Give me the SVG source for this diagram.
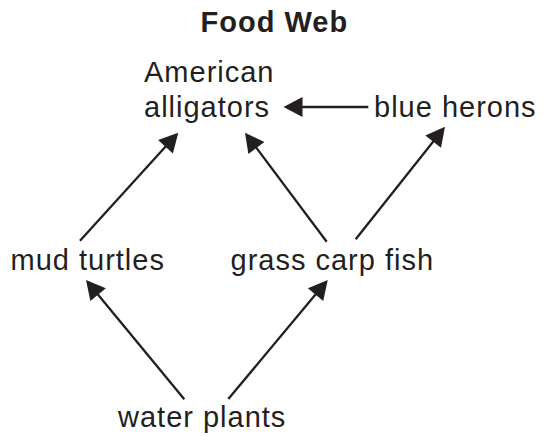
<svg xmlns="http://www.w3.org/2000/svg" width="543" height="436" viewBox="0 0 543 436">
<defs>
<style>
.t{font-family:"Liberation Sans",Arial,sans-serif;font-size:29px;fill:#231f20;letter-spacing:1px}
.title{font-family:"Liberation Sans",Arial,sans-serif;font-size:29px;font-weight:bold;fill:#231f20;letter-spacing:1px}
.c line{stroke:#231f20;stroke-width:2.3;fill:none;marker-end:url(#ah)}
</style>
<marker id="ah" markerUnits="userSpaceOnUse" markerWidth="20" markerHeight="21" refX="11" refY="10" orient="auto" viewBox="0 0 20 21" overflow="visible">
<path d="M0,0 L19,10 L0,20 Z" fill="#231f20"/>
</marker>
</defs>
<rect width="543" height="436" fill="#ffffff"/>
<text class="title" x="200.5" y="31.7">Food Web</text>
<g id="alligators"><text class="t" x="144" y="81.7">American</text><text class="t" x="144" y="116.7">alligators</text></g>
<g id="herons"><text class="t" x="374" y="116.7">blue herons</text></g>
<g id="turtles"><text class="t" x="10.5" y="270">mud turtles</text></g>
<g id="carp"><text class="t" x="230.5" y="270">grass carp fish</text></g>
<g id="plants"><text class="t" x="118" y="426.7">water plants</text></g>
<g class="c" id="connectors">
<line x1="80" y1="240.7" x2="172.9" y2="138.6"/>
<line x1="326.7" y1="241.7" x2="249.8" y2="139.1"/>
<line x1="355.7" y1="239.3" x2="440" y2="133"/>
<line x1="368.3" y1="107" x2="291.5" y2="107"/>
<line x1="184.3" y1="399.3" x2="91.1" y2="286.2"/>
<line x1="228.3" y1="399" x2="322.6" y2="286.1"/>
</g>
</svg>
